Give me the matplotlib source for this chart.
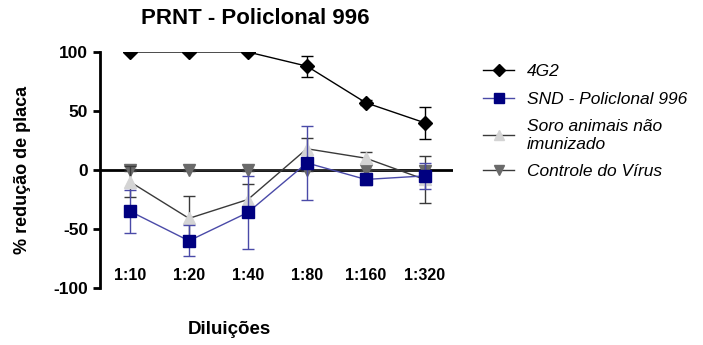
import matplotlib.pyplot as plt
from matplotlib.lines import Line2D
import numpy as np

plt.rcParams['font.family'] = ['Liberation Sans', 'DejaVu Sans']
plt.rcParams['axes.unicode_minus'] = False

diluicoes = ["1:10", "1:20", "1:40", "1:80", "1:160", "1:320"]

g2_mean = [100, 100, 100, 88, 57, 40]
g2_err = [0, 0, 0, 9, 2, 13.5]

snd_mean = [-35, -60, -36, 6, -8, -5]
snd_err = [18, 13, 31, 31, 5, 11]

soro_mean = [-10, -41, -25, 18, 10, -8]
soro_err = [13, 19, 13, 9, 5, 20]

ctrl_mean = [0, 0, 0, 0, 0, -1]
ctrl_err = [1, 1, 1, 1, 1, 1]

x = np.arange(len(diluicoes))

fig = plt.figure(figsize=(7.03, 3.45), dpi=100)
ax = fig.add_axes([0.1422, 0.1652, 0.5022, 0.6841])

ax.axhline(0, color="black", lw=2, zorder=1)

series = [
    (soro_mean, soro_err, "#3a3a3a", "^", 8, "#d4d4d4", "Soro animais não\nimunizado", 3),
    (snd_mean, snd_err, "#4a4aa8", "s", 8, "#000080", "SND - Policlonal 996", 4),
    (ctrl_mean, ctrl_err, "#3a3a3a", "v", 8, "#6a6a6a", "Controle do Vírus", 2),
    (g2_mean, g2_err, "black", "D", 7.5, "black", "4G2", 5),
]
handles = {}
for mean, err, lc, mk, ms, fc, lab, z in series:
    mean = np.array(mean, dtype=float)
    err = np.array(err, dtype=float)
    keep = err > 0
    ax.errorbar(x[keep], mean[keep], yerr=err[keep], fmt="none", ecolor=lc,
                elinewidth=1, capsize=4, zorder=z)
    ax.plot(x, mean, color=lc, lw=1, marker=mk, ms=ms, mfc=fc, mec=fc, zorder=z)
    handles[lab] = Line2D([], [], color=lc, lw=1, marker=mk, ms=ms - 1, mfc=fc, mec=fc)

ax.set_xlim(-0.51, 5.48)
ax.set_ylim(-100, 100)
ax.set_yticks([100, 50, 0, -50, -100])
ax.tick_params(axis="y", width=2, length=5, labelsize=12.5)
for t in ax.get_yticklabels():
    t.set_fontweight("bold")
ax.set_xticks([])
for s in ["top", "right", "bottom"]:
    ax.spines[s].set_visible(False)
ax.spines["left"].set_linewidth(2)

for i, lab in enumerate(diluicoes):
    ax.text(x[i], -89, lab, ha="center", va="center", fontsize=11.5, fontweight="bold")

ax.set_ylabel("% redução de placa", fontsize=13, fontweight="bold", labelpad=16)
fig.text(229 / 703, 1 - 330 / 345, "Diluições", ha="center", va="center",
         fontsize=13.5, fontweight="bold")
fig.text(255 / 703, 1 - 18 / 345, "PRNT - Policlonal 996", ha="center", va="center",
         fontsize=16, fontweight="bold")

order = ["4G2", "SND - Policlonal 996", "Soro animais não\nimunizado", "Controle do Vírus"]
leg = fig.legend([handles[k] for k in order], order,
                 loc="upper left", bbox_to_anchor=(0.665, 0.86), frameon=False,
                 prop={"style": "italic", "size": 12.5}, handlelength=1.8,
                 labelspacing=0.72, handletextpad=0.7)

fig.savefig("out.png", dpi=100)
